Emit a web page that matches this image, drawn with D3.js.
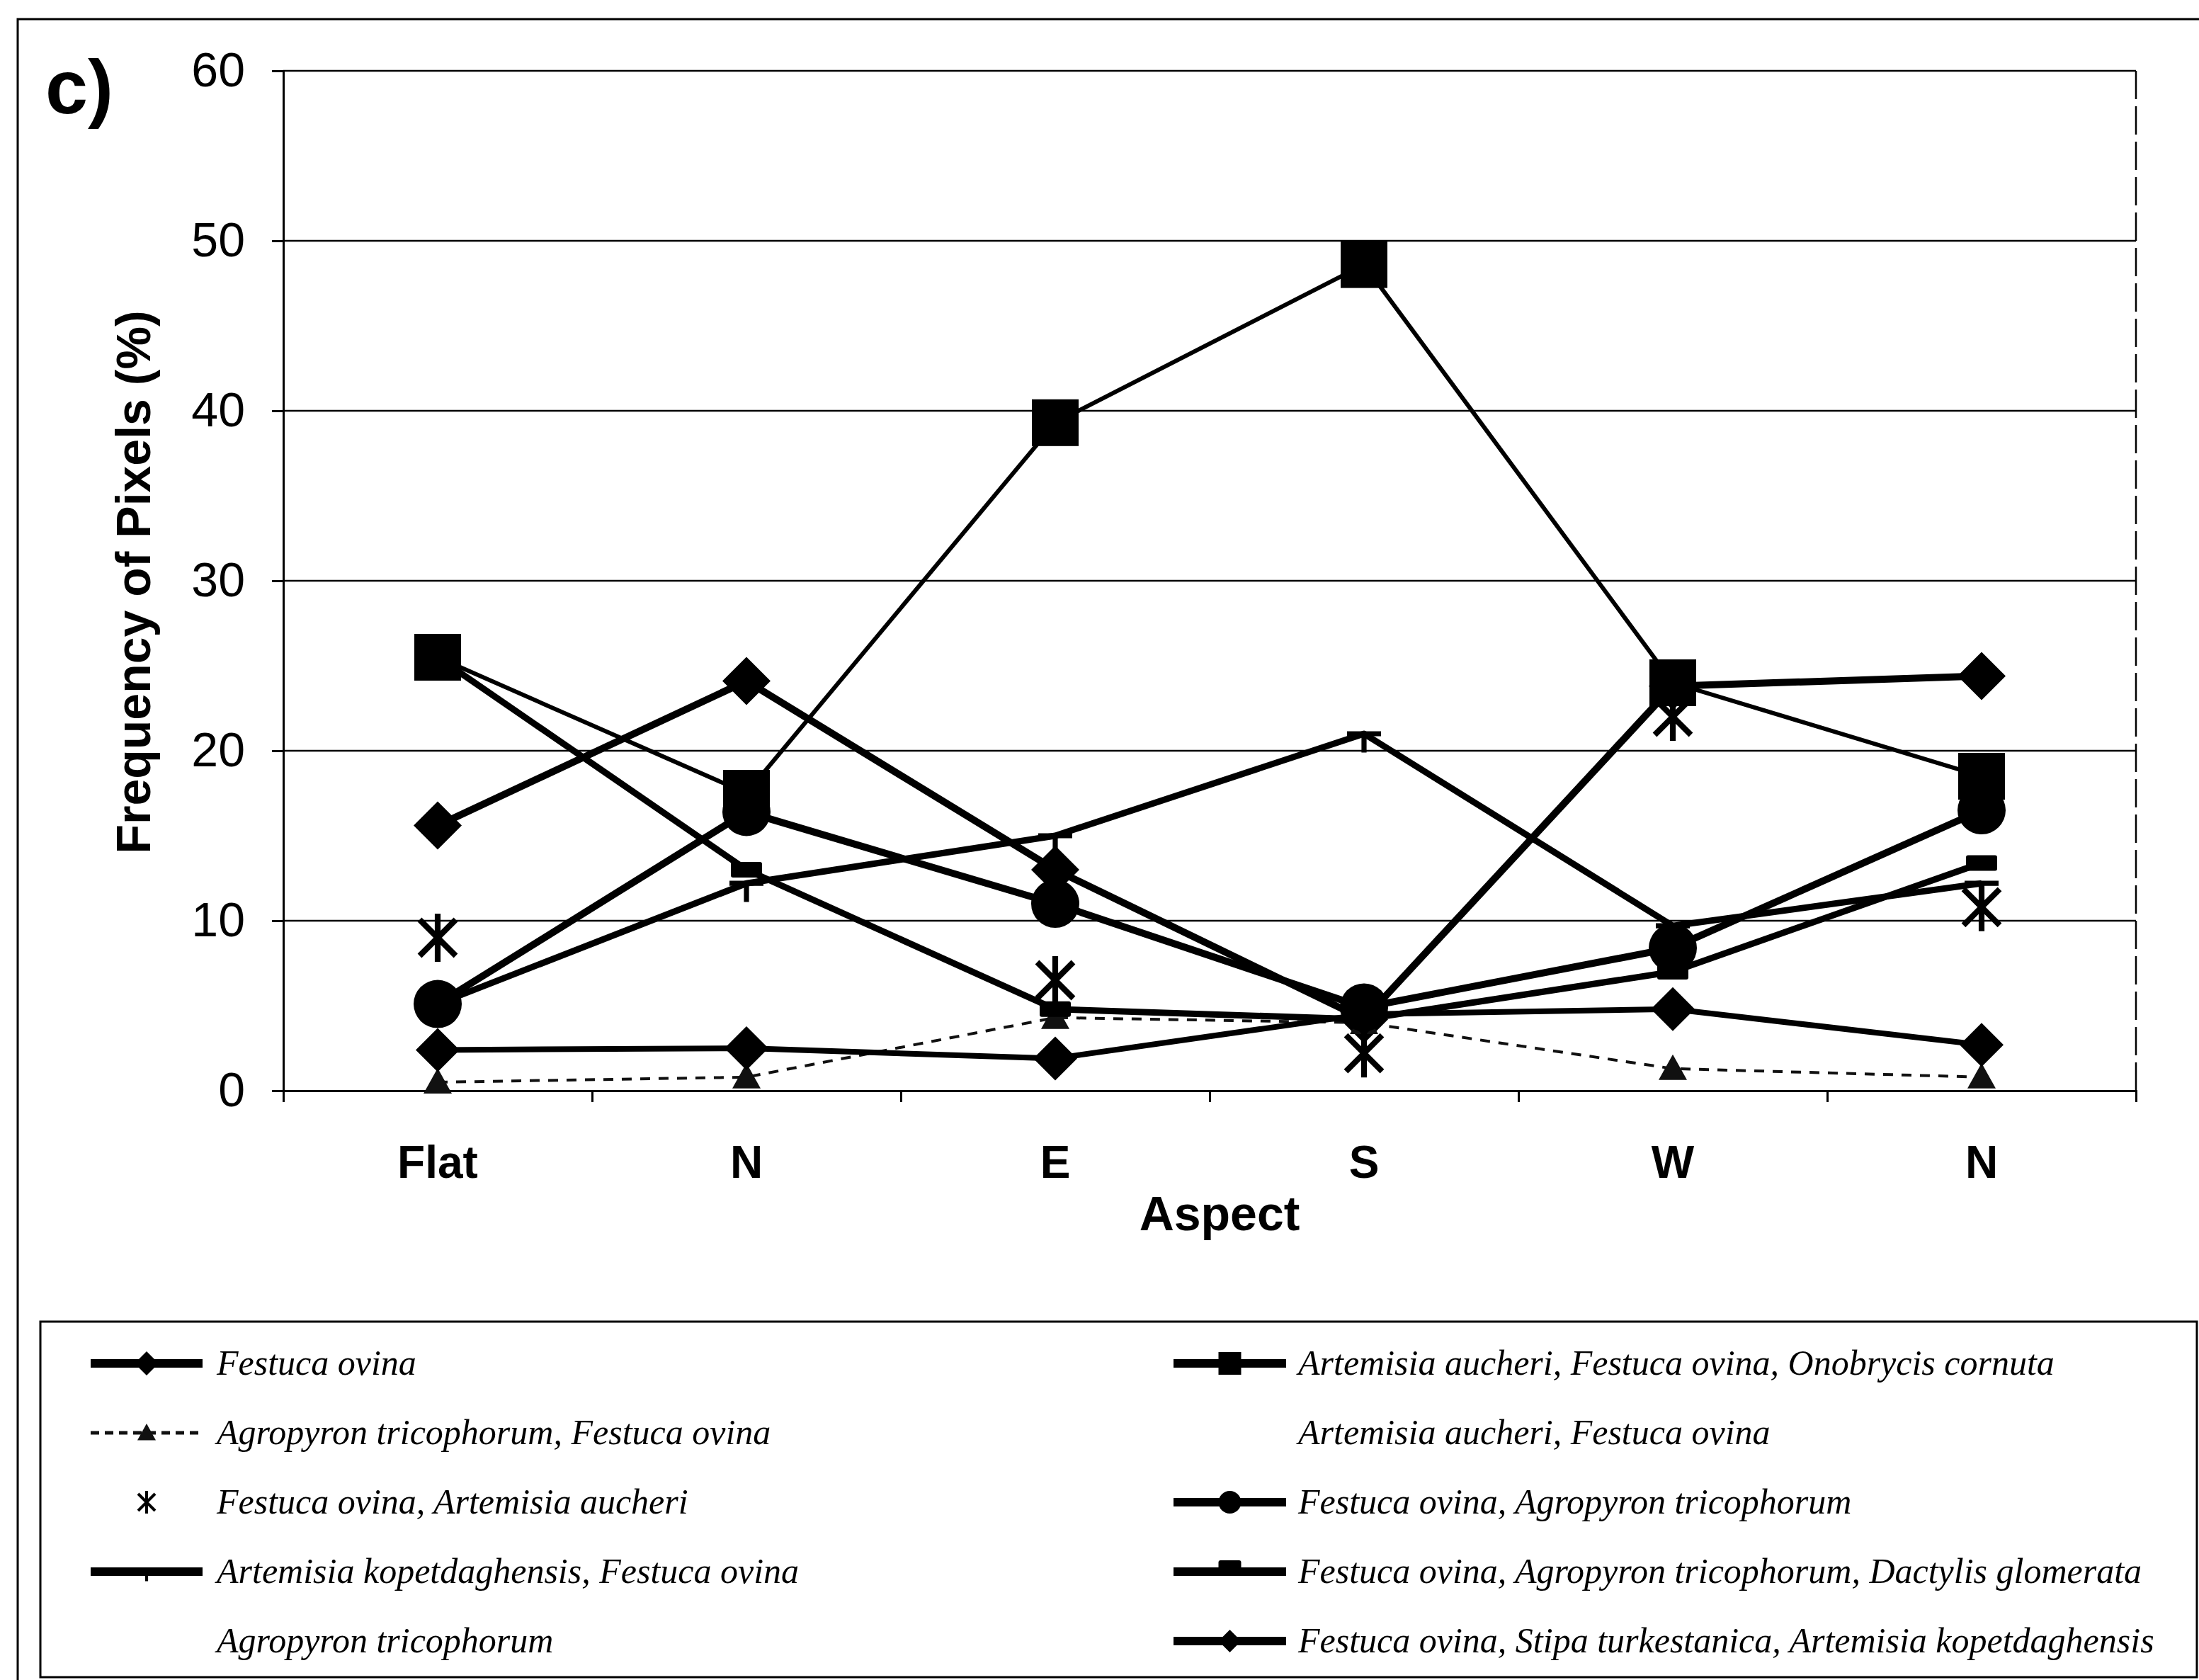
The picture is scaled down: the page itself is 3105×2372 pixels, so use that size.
<!DOCTYPE html>
<html><head><meta charset="utf-8">
<script src="https://cdn.jsdelivr.net/npm/d3@7"></script>
<style>body{margin:0;background:#fff;} svg{display:block;}</style>
</head><body>
<script>
// ---------- data ----------
const categories = ["Flat", "N", "E", "S", "W", "N"];
const yTickValues = [0, 10, 20, 30, 40, 50, 60];
const seriesNames = [
  "Festuca ovina",
  "Artemisia aucheri, Festuca ovina, Onobrycis cornuta",
  "Agropyron tricophorum, Festuca ovina",
  "Artemisia aucheri, Festuca ovina",
  "Festuca ovina, Artemisia aucheri",
  "Festuca ovina, Agropyron tricophorum",
  "Artemisia kopetdaghensis, Festuca ovina",
  "Festuca ovina, Agropyron tricophorum, Dactylis glomerata",
  "Agropyron tricophorum",
  "Festuca ovina, Stipa turkestanica, Artemisia kopetdaghensis"
];
const festucaOvina               = [15.6, 24.1, 13.0, 4.2, 23.8, 24.4];
const artAucheriFestucaOnobrycis = [25.5, 17.5, 39.3, 48.6, 24.0, 18.5];
const agropyronFestuca           = [0.5, 0.8, 4.3, 4.0, 1.3, 0.8];
const artAucheriFestuca          = [null, null, null, null, null, null]; // not legible in the scan
const festucaArtAucheri          = [9.0, null, 6.5, 2.2, 22.0, 10.8];
const festucaAgropyron           = [5.1, 16.4, 11.0, 4.9, 8.4, 16.5];
const artKopetFestuca            = [5.1, 12.2, 15.0, 21.0, 9.7, 12.2];
const festucaAgropyronDactylis   = [25.5, 13.0, 4.8, 4.2, 7.0, 13.4];
const agropyronTricophorum       = [null, null, null, null, null, null]; // not legible in the scan
const festucaStipaArtKopet       = [2.4, 2.5, 1.9, 4.5, 4.8, 2.7];

const seriesValues = [festucaOvina, artAucheriFestucaOnobrycis, agropyronFestuca, artAucheriFestuca,
  festucaArtAucheri, festucaAgropyron, artKopetFestuca, festucaAgropyronDactylis,
  agropyronTricophorum, festucaStipaArtKopet];

// ---------- styles (kept apart from data) ----------
const styles = [
  {marker: "diamond",  ms: 34, lms: 17, lw: 10, color: "#000"},
  {marker: "square",   ms: 33, lms: 16, lw: 6,  color: "#000"},
  {marker: "triangle", ms: 20, lms: 13, lw: 4,  color: "#111", dash: "14,12"},
  {marker: null,       ms: 0,  lms: 0,  lw: 0,  color: "#fff"},
  {marker: "asterisk", ms: 34, lms: 16, lw: 0,  color: "#000"},
  {marker: "circle",   ms: 34, lms: 16, lw: 10, color: "#000"},
  {marker: "tee",      ms: 24, lms: 14, lw: 9,  color: "#000"},
  {marker: "dash",     ms: 22, lms: 16, lw: 9,  color: "#000"},
  {marker: null,       ms: 0,  lms: 0,  lw: 0,  color: "#fff"},
  {marker: "diamond",  ms: 31, lms: 16, lw: 8,  color: "#000"}
];

const W = 3105, H = 2372;
const plot = {l: 400, r: 3016, t: 100, b: 1540};

const svg = d3.select("body").append("svg").attr("width", W).attr("height", H)
  .style("font-family", "'Liberation Sans', Arial, sans-serif");

svg.append("rect").attr("width", W).attr("height", H).attr("fill", "#fff");

// outer frame (only top and left fall inside the picture)
svg.append("rect").attr("x", 25).attr("y", 27).attr("width", 3110).attr("height", 2400)
  .attr("fill", "none").attr("stroke", "#000").attr("stroke-width", 3);

const x = d3.scaleBand().domain(d3.range(categories.length)).range([plot.l, plot.r]);
const xEdge = d3.scaleLinear().domain([0, categories.length]).range([plot.l, plot.r]);
const cx = i => x(i) + x.bandwidth() / 2;
const y = d3.scaleLinear().domain([0, 60]).range([plot.b, plot.t]);

// gridlines
svg.append("g").selectAll("line").data(yTickValues.filter(v => v > 0)).join("line")
  .attr("x1", plot.l).attr("x2", plot.r).attr("y1", d => y(d)).attr("y2", d => y(d))
  .attr("stroke", "#000").attr("stroke-width", 2.5);

// right border of plot area (broken in scan)
svg.append("line").attr("x1", plot.r).attr("x2", plot.r).attr("y1", plot.t).attr("y2", plot.b)
  .attr("stroke", "#000").attr("stroke-width", 2.5).attr("stroke-dasharray", "40,10");

// y axis
const yAxis = svg.append("g").attr("transform", `translate(${plot.l},0)`)
  .call(d3.axisLeft(y).tickValues(yTickValues).tickSize(16).tickPadding(38).tickFormat(d3.format("d")));
yAxis.select(".domain").attr("stroke-width", 3);
yAxis.selectAll(".tick line").attr("stroke-width", 3);
yAxis.selectAll("text").attr("font-size", 68).attr("font-family", "'Liberation Sans', Arial, sans-serif").attr("fill", "#000");

// x axis: boundary ticks
const xTicks = svg.append("g").attr("transform", `translate(0,${plot.b})`)
  .call(d3.axisBottom(xEdge).tickValues(d3.range(categories.length + 1)).tickSize(16).tickFormat(""));
xTicks.select(".domain").attr("stroke-width", 3);
xTicks.selectAll(".tick line").attr("stroke-width", 3);
// x axis: labels
const xLab = svg.append("g").attr("transform", `translate(0,${plot.b})`)
  .call(d3.axisBottom(x).tickSize(0).tickPadding(78).tickFormat(i => categories[i]));
xLab.select(".domain").remove();
xLab.selectAll("text").attr("font-size", 64).attr("font-weight", "bold")
  .attr("font-family", "'Liberation Sans', Arial, sans-serif").attr("fill", "#000");

// titles
svg.append("text").attr("x", 1722).attr("y", 1737).attr("text-anchor", "middle")
  .attr("font-size", 68).attr("font-weight", "bold").text("Aspect");
svg.append("text").attr("transform", "translate(212,822) rotate(-90)").attr("text-anchor", "middle")
  .attr("font-size", 68).attr("font-weight", "bold").text("Frequency of Pixels (%)");
svg.append("text").attr("x", 64).attr("y", 160).attr("font-size", 108).attr("font-weight", "bold").text("c)");

// marker drawing
function drawMarker(g, type, px, py, s, color) {
  if (!type) return;
  if (type === "diamond") {
    g.append("path").attr("d", `M${px},${py - s}L${px + s},${py}L${px},${py + s}L${px - s},${py}Z`).attr("fill", color);
  } else if (type === "square") {
    g.append("rect").attr("x", px - s).attr("y", py - s).attr("width", 2 * s).attr("height", 2 * s).attr("fill", color);
  } else if (type === "triangle") {
    g.append("path").attr("d", `M${px},${py - s}L${px + s},${py + s * 0.8}L${px - s},${py + s * 0.8}Z`).attr("fill", color);
  } else if (type === "circle") {
    g.append("circle").attr("cx", px).attr("cy", py).attr("r", s).attr("fill", color);
  } else if (type === "asterisk") {
    const sw = Math.max(4, s * 0.24);
    const d = s * 0.75;
    g.append("path").attr("d",
      `M${px},${py - s}L${px},${py + s}M${px - d},${py - d}L${px + d},${py + d}M${px + d},${py - d}L${px - d},${py + d}`)
      .attr("stroke", color).attr("stroke-width", sw).attr("fill", "none");
  } else if (type === "tee") {
    const sw = Math.max(4, s * 0.3);
    g.append("path").attr("d", `M${px - s},${py}L${px + s},${py}M${px},${py}L${px},${py + s * 1.1}`)
      .attr("stroke", color).attr("stroke-width", sw).attr("fill", "none");
  } else if (type === "dash") {
    g.append("rect").attr("x", px - s).attr("y", py - s * 0.5).attr("width", 2 * s).attr("height", s)
      .attr("rx", 3).attr("fill", color);
  }
}

// lines
const lineGen = d3.line().defined(d => d.v != null).x(d => cx(d.i)).y(d => y(d.v));
const linesG = svg.append("g");
seriesValues.forEach((vals, k) => {
  const st = styles[k];
  if (!st.lw) return;
  const pts = vals.map((v, i) => ({i, v}));
  linesG.append("path").attr("d", lineGen(pts)).attr("fill", "none")
    .attr("stroke", st.color).attr("stroke-width", st.lw)
    .attr("stroke-linejoin", "round").attr("stroke-dasharray", st.dash || null);
});
// markers
const markG = svg.append("g");
seriesValues.forEach((vals, k) => {
  const st = styles[k];
  vals.forEach((v, i) => { if (v != null) drawMarker(markG, st.marker, cx(i), y(v), st.ms, st.color); });
});

// legend
svg.append("rect").attr("x", 57).attr("y", 1866).attr("width", 3045).attr("height", 502)
  .attr("fill", "none").attr("stroke", "#000").attr("stroke-width", 3);
const legCols = [{x1: 128, x2: 286, tx: 306}, {x1: 1657, x2: 1816, tx: 1833}];
const legRows = [1925, 2023, 2121, 2219, 2317];
const legG = svg.append("g");
seriesNames.forEach((name, k) => {
  const col = legCols[k % 2], row = legRows[Math.floor(k / 2)];
  const st = styles[k];
  if (st.lw) {
    legG.append("line").attr("x1", col.x1).attr("x2", col.x2).attr("y1", row).attr("y2", row)
      .attr("stroke", st.color).attr("stroke-width", st.dash ? 5 : Math.max(st.lw, 10) + 2)
      .attr("stroke-dasharray", st.dash ? "12,8" : null);
  }
  const my = st.marker === "dash" ? row - 8 : (st.marker === "tee" ? row - 2 : row);
  drawMarker(legG, st.marker, (col.x1 + col.x2) / 2, my, st.lms, st.color);
  legG.append("text").attr("x", col.tx).attr("y", row + 16)
    .attr("font-family", "'Liberation Serif', 'Times New Roman', serif").attr("font-style", "italic")
    .attr("font-size", 50).attr("fill", "#000").text(name);
});
</script>
</body></html>
